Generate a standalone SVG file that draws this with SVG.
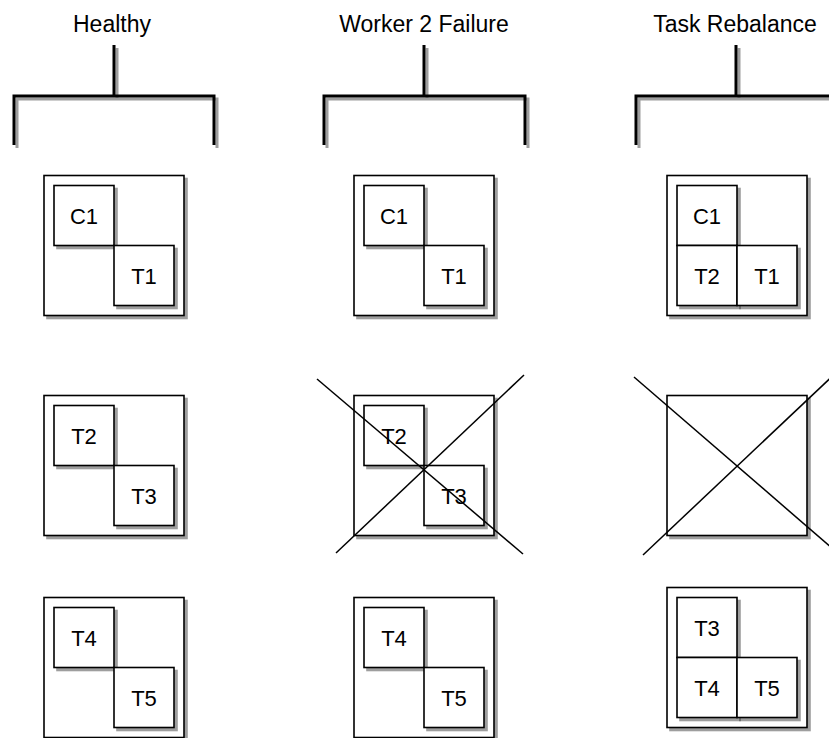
<svg xmlns="http://www.w3.org/2000/svg" width="829" height="738" viewBox="0 0 829 738">
<defs>
<filter id="sh" x="-10%" y="-10%" width="130%" height="130%">
<feDropShadow dx="3" dy="3" stdDeviation="0.7" flood-color="#000" flood-opacity="0.38"/>
</filter>
<style>
.box{fill:#fff;stroke:#000;stroke-width:1.6;filter:url(#sh)}
.br{fill:none;stroke:#000;stroke-width:3;filter:url(#sh)}
.x{stroke:#000;stroke-width:1.5;fill:none}
.t{font-family:"Liberation Sans",Arial,Helvetica,sans-serif;font-size:22px;fill:#000;text-anchor:middle}
.h{font-family:"Liberation Sans",Arial,Helvetica,sans-serif;font-size:23px;fill:#000;text-anchor:middle}
</style>
</defs>
<rect width="829" height="738" fill="#fff"/>

<g id="healthy-header">
<text class="h" x="112" y="32">Healthy</text>
<path class="br" d="M14,145V96H214V145M114,45V96"/>
</g>
<g id="failure-header">
<text class="h" x="424" y="32">Worker 2 Failure</text>
<path class="br" d="M324,145V96H525V145M424,45V96"/>
</g>
<g id="rebalance-header">
<text class="h" x="735" y="32">Task Rebalance</text>
<path class="br" d="M636,145V96H836V145M736,45V96"/>
</g>

<g id="h-w1">
<rect class="box" x="44" y="175.5" width="140" height="140"/>
<rect class="box" x="54" y="185.5" width="60" height="60"/>
<text class="t" x="84" y="224">C1</text>
<rect class="box" x="114" y="245.5" width="60" height="60"/>
<text class="t" x="144" y="284">T1</text>
</g>
<g id="h-w2">
<rect class="box" x="44" y="395.5" width="140" height="140"/>
<rect class="box" x="54" y="405.5" width="60" height="60"/>
<text class="t" x="84" y="444">T2</text>
<rect class="box" x="114" y="465.5" width="60" height="60"/>
<text class="t" x="144" y="504">T3</text>
</g>
<g id="h-w3">
<rect class="box" x="44" y="597.5" width="140" height="140"/>
<rect class="box" x="54" y="607.5" width="60" height="60"/>
<text class="t" x="84" y="646">T4</text>
<rect class="box" x="114" y="667.5" width="60" height="60"/>
<text class="t" x="144" y="706">T5</text>
</g>

<g id="f-w1">
<rect class="box" x="354" y="175.5" width="140" height="140"/>
<rect class="box" x="364" y="185.5" width="60" height="60"/>
<text class="t" x="394" y="224">C1</text>
<rect class="box" x="424" y="245.5" width="60" height="60"/>
<text class="t" x="454" y="284">T1</text>
</g>
<g id="f-w2">
<rect class="box" x="354" y="395.5" width="140" height="140"/>
<rect class="box" x="364" y="405.5" width="60" height="60"/>
<text class="t" x="394" y="444">T2</text>
<rect class="box" x="424" y="465.5" width="60" height="60"/>
<text class="t" x="454" y="504">T3</text>
</g>
<g id="f-w3">
<rect class="box" x="354" y="597.5" width="140" height="140"/>
<rect class="box" x="364" y="607.5" width="60" height="60"/>
<text class="t" x="394" y="646">T4</text>
<rect class="box" x="424" y="667.5" width="60" height="60"/>
<text class="t" x="454" y="706">T5</text>
</g>

<g id="r-w1">
<rect class="box" x="667" y="175.5" width="140" height="140"/>
<rect class="box" x="677" y="185.5" width="60" height="60"/>
<text class="t" x="707" y="224">C1</text>
<rect class="box" x="677" y="245.5" width="60" height="60"/>
<text class="t" x="707" y="284">T2</text>
<rect class="box" x="737" y="245.5" width="60" height="60"/>
<text class="t" x="767" y="284">T1</text>
</g>
<g id="r-w2">
<rect class="box" x="667" y="395.5" width="140" height="140"/>
</g>
<g id="r-w3">
<rect class="box" x="667" y="587.5" width="140" height="140"/>
<rect class="box" x="677" y="597.5" width="60" height="60"/>
<text class="t" x="707" y="636">T3</text>
<rect class="box" x="677" y="657.5" width="60" height="60"/>
<text class="t" x="707" y="696">T4</text>
<rect class="box" x="737" y="657.5" width="60" height="60"/>
<text class="t" x="767" y="696">T5</text>
</g>

<g id="f-cross">
<line class="x" x1="317" y1="379" x2="523" y2="554"/>
<line class="x" x1="336" y1="553" x2="524" y2="375"/>
</g>
<g id="r-cross">
<line class="x" x1="634" y1="377" x2="840" y2="555"/>
<line class="x" x1="643" y1="555" x2="840" y2="369"/>
</g>
<g id="connectors"/>
</svg>
